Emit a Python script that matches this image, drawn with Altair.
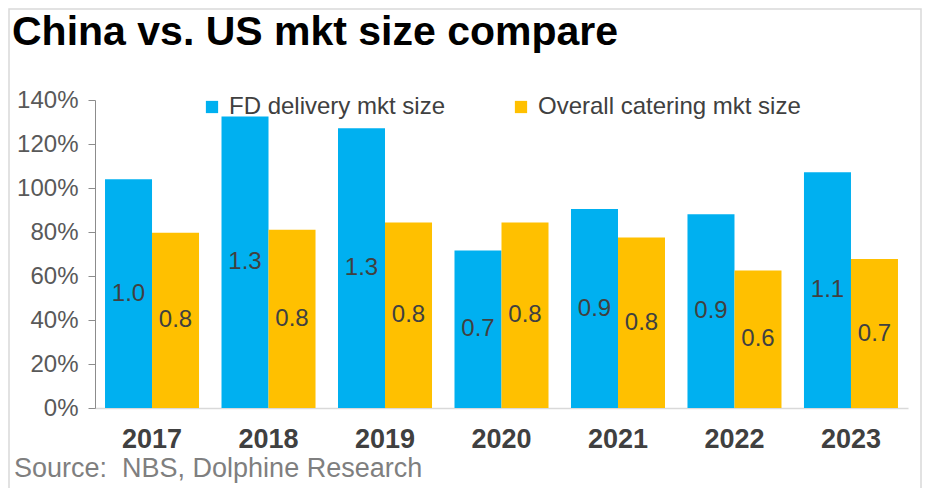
import altair as alt
import pandas as pd

years = ["2017", "2018", "2019", "2020", "2021", "2022", "2023"]
fd_delivery = [1.04, 1.325, 1.272, 0.716, 0.904, 0.881, 1.072]
overall_catering = [0.797, 0.81, 0.843, 0.843, 0.775, 0.625, 0.677]
series_names = ["FD delivery mkt size", "Overall catering mkt size"]
series_colors = ["#00B0F0", "#FFC000"]
y_ticks = [0, 0.2, 0.4, 0.6, 0.8, 1.0, 1.2, 1.4]

rows = []
for i, yr in enumerate(years):
    rows.append({"year": yr, "series": series_names[0], "value": fd_delivery[i]})
    rows.append({"year": yr, "series": series_names[1], "value": overall_catering[i]})
df = pd.DataFrame(rows)
df["label"] = df["value"].map(lambda v: f"{v:.1f}")
df["mid"] = df["value"] / 2

FONT = "Liberation Sans"

x_enc = alt.X("year:N", sort=years,
              scale=alt.Scale(paddingInner=0.193, paddingOuter=0.086),
              axis=alt.Axis(title=None, labelAngle=0, labelFont=FONT, labelFontSize=27,
                            labelFontWeight="bold", labelColor="#404040", ticks=False,
                            domainColor="#d9d9d9", domainWidth=1.5, labelPadding=18,
                            labelBaseline="top"))
xoff = alt.XOffset("series:N", sort=series_names)

bars = alt.Chart(df).mark_bar().encode(
    x=x_enc,
    xOffset=xoff,
    y=alt.Y("value:Q",
            scale=alt.Scale(domain=[0, 1.4], nice=False, zero=True),
            axis=alt.Axis(title=None, format=".0%", values=y_ticks, grid=False,
                          labelFont=FONT, labelFontSize=24, labelColor="#595959",
                          domainColor="#8c8c8c", tickColor="#8c8c8c", tickSize=7,
                          labelPadding=10)),
    color=alt.Color("series:N", sort=series_names,
                    scale=alt.Scale(domain=series_names, range=series_colors),
                    legend=alt.Legend(title=None, orient="none", direction="horizontal",
                                      legendX=105, legendY=-5, symbolType="square",
                                      symbolSize=150, symbolStrokeWidth=0,
                                      labelFont=FONT, labelFontSize=24, labelLimit=500,
                                      labelColor="#404040", labelOffset=5,
                                      columnPadding=63)),
)

labels = alt.Chart(df).mark_text(font=FONT, fontSize=24, color="#404040",
                                 baseline="middle").encode(
    x=alt.X("year:N", sort=years),
    xOffset=xoff,
    y=alt.Y("mid:Q"),
    text="label:N",
)

title_df = pd.DataFrame({"t": ["China vs. US mkt size compare"]})
title = alt.Chart(title_df).mark_text(font=FONT, fontSize=41, fontWeight="bold",
                                      color="#000000", align="left",
                                      baseline="alphabetic").encode(
    x=alt.value(-83), y=alt.value(-55), text="t:N")

src_df = pd.DataFrame({"t": ["Source:\u00a0\u00a0NBS, Dolphine Research"]})
source = alt.Chart(src_df).mark_text(font=FONT, fontSize=27, color="#7f7f7f",
                                     align="left", baseline="alphabetic").encode(
    x=alt.value(-81), y=alt.value(377), text="t:N")

frame = alt.Chart(title_df).mark_rect(filled=False, stroke="#d9d9d9",
                                      strokeWidth=1.5).encode(
    x=alt.value(-86), x2=alt.value(826), y=alt.value(-91), y2=alt.value(390))

chart = alt.layer(frame, bars, labels, title, source).properties(
    width=813, height=308,
    padding={"left": 87, "top": 92, "right": 16, "bottom": 80},
    autosize=alt.AutoSizeParams(type="none"),
).configure_view(stroke=None)

chart.save("out.html", embed_options={"renderer": "svg", "actions": False})
